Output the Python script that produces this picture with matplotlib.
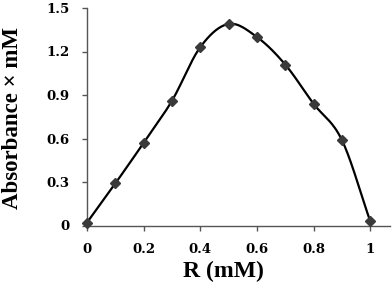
import matplotlib
matplotlib.use("Agg")
import matplotlib.pyplot as plt
import numpy as np

# Datos
r_values = [0.0, 0.1, 0.2, 0.3, 0.4, 0.5, 0.6, 0.7, 0.8, 0.9, 1.0]
absorbance = [0.02, 0.29, 0.57, 0.86, 1.23, 1.39, 1.30, 1.11, 0.84, 0.59, 0.03]
x_ticks = [0, 0.2, 0.4, 0.6, 0.8, 1]
x_tick_labels = ["0", "0.2", "0.4", "0.6", "0.8", "1"]
y_ticks = [0, 0.3, 0.6, 0.9, 1.2, 1.5]
y_tick_labels = ["0", "0.3", "0.6", "0.9", "1.2", "1.5"]


# Curva suavizada tipo Excel (Catmull-Rom) a través de los puntos
def smooth_curve(x, y, n=30):
    x = np.asarray(x, float)
    y = np.asarray(y, float)
    px = np.concatenate([[2 * x[0] - x[1]], x, [2 * x[-1] - x[-2]]])
    py = np.concatenate([[2 * y[0] - y[1]], y, [2 * y[-1] - y[-2]]])
    xs, ys = [], []
    t = np.linspace(0, 1, n)
    for i in range(1, len(px) - 2):
        for p, out in ((px, xs), (py, ys)):
            p0, p1, p2, p3 = p[i - 1], p[i], p[i + 1], p[i + 2]
            out.extend(0.5 * (2 * p1 + (-p0 + p2) * t
                              + (2 * p0 - 5 * p1 + 4 * p2 - p3) * t ** 2
                              + (-p0 + 3 * p1 - 3 * p2 + p3) * t ** 3))
    return xs, ys


fig = plt.figure(figsize=(3.92, 2.85), dpi=100)
ax = fig.add_axes([87 / 392, (285 - 225.5) / 285, 303 / 392, 217.5 / 285])

sx, sy = smooth_curve(r_values, absorbance)
ax.plot(sx, sy, color="black", linewidth=1.6, zorder=2)
ax.plot(r_values, absorbance, linestyle="none", marker="D", markersize=5,
        color="#3a3a3a", zorder=3, clip_on=False)

ax.set_xlim(0, 1.07)
ax.set_ylim(0, 1.5)
ax.set_xticks(x_ticks)
ax.set_xticklabels(x_tick_labels)
ax.set_yticks(y_ticks)
ax.set_yticklabels(y_tick_labels)

for side in ("top", "right"):
    ax.spines[side].set_visible(False)
for side in ("left", "bottom"):
    ax.spines[side].set_color("#555555")
    ax.spines[side].set_linewidth(1.0)

ax.tick_params(direction="out", length=3.6, width=1.0, color="#555555",
               labelsize=9.5, pad=9)
for lab in ax.get_xticklabels() + ax.get_yticklabels():
    lab.set_family("DejaVu Serif")
    lab.set_fontweight("bold")

ax.set_xlabel("R (mM)", family="Liberation Serif", fontweight="bold",
              fontsize=17, va="center")
ax.set_ylabel("Absorbance × mM", family="Liberation Serif", fontweight="bold",
              fontsize=16.5, va="center")
ax.xaxis.set_label_coords(0.449, -0.209)
ax.yaxis.set_label_coords(-0.2475, 0.494)

fig.savefig("out.png", dpi=100)
